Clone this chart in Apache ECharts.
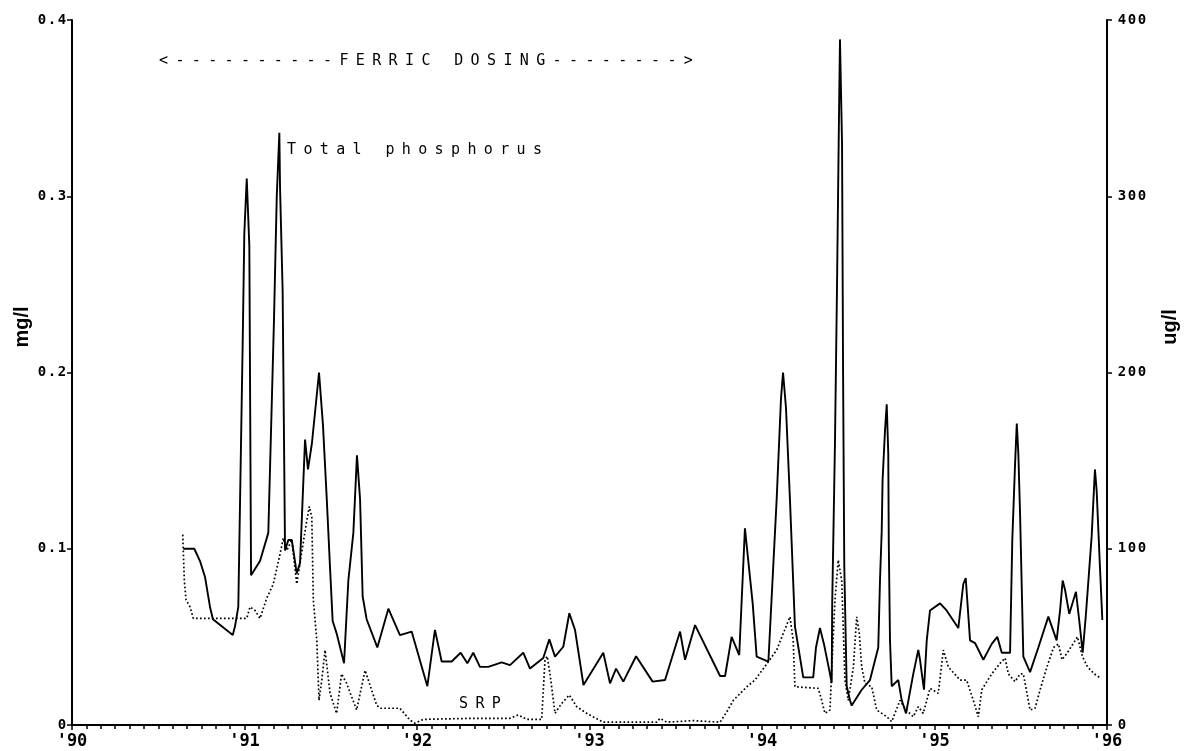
<!DOCTYPE html>
<html>
<head>
<meta charset="utf-8">
<script src="https://cdn.jsdelivr.net/npm/echarts@6/dist/echarts.min.js"></script>
<style>
  html, body { margin: 0; padding: 0; background: #ffffff; }
  #chart { width: 1184px; height: 751px; }
</style>
</head>
<body>
<div id="chart"></div>
<script>
// Sampling dates are decimal years.
// Total phosphorus, mg/l (left axis)
const totalPhosphorus = [
  [1990.645, 0.100], [1990.709, 0.100], [1990.742, 0.093], [1990.771, 0.084], [1990.800, 0.067],
  [1990.817, 0.060], [1990.868, 0.056], [1990.932, 0.051], [1990.945, 0.056], [1990.964, 0.067],
  [1990.990, 0.220], [1990.999, 0.279], [1991.013, 0.310], [1991.028, 0.272], [1991.032, 0.197],
  [1991.038, 0.085], [1991.090, 0.093], [1991.138, 0.109], [1991.171, 0.230], [1991.187, 0.300],
  [1991.202, 0.336], [1991.206, 0.305], [1991.221, 0.247], [1991.235, 0.099], [1991.254, 0.105],
  [1991.274, 0.105], [1991.303, 0.086], [1991.322, 0.092], [1991.351, 0.162], [1991.368, 0.145],
  [1991.391, 0.160], [1991.432, 0.200], [1991.455, 0.170], [1991.477, 0.128], [1991.496, 0.089],
  [1991.511, 0.059], [1991.534, 0.052], [1991.577, 0.035], [1991.602, 0.082], [1991.631, 0.109],
  [1991.652, 0.153], [1991.670, 0.128], [1991.685, 0.073], [1991.708, 0.060], [1991.770, 0.044],
  [1991.834, 0.066], [1991.901, 0.051], [1991.969, 0.053], [1992.060, 0.022], [1992.104, 0.054],
  [1992.143, 0.036], [1992.201, 0.036], [1992.253, 0.041], [1992.292, 0.035], [1992.326, 0.041],
  [1992.365, 0.033], [1992.413, 0.033], [1992.491, 0.0355], [1992.539, 0.034], [1992.616, 0.041],
  [1992.655, 0.032], [1992.732, 0.038], [1992.767, 0.0486], [1992.800, 0.0388], [1992.848, 0.0444],
  [1992.883, 0.0634], [1992.916, 0.054], [1992.965, 0.0227], [1993.080, 0.041], [1993.119, 0.0236],
  [1993.154, 0.032], [1993.196, 0.0246], [1993.270, 0.039], [1993.366, 0.0246], [1993.438, 0.0255],
  [1993.525, 0.053], [1993.554, 0.037], [1993.612, 0.0567], [1993.757, 0.0278], [1993.786, 0.0278],
  [1993.824, 0.050], [1993.868, 0.0397], [1993.901, 0.1116], [1993.946, 0.069], [1993.969, 0.0388],
  [1994.037, 0.036], [1994.085, 0.128], [1994.110, 0.185], [1994.122, 0.200], [1994.139, 0.180],
  [1994.162, 0.128], [1994.191, 0.056], [1994.239, 0.027], [1994.297, 0.027], [1994.313, 0.044],
  [1994.336, 0.055], [1994.359, 0.046], [1994.390, 0.031], [1994.404, 0.024], [1994.407, 0.069],
  [1994.423, 0.160], [1994.435, 0.250], [1994.446, 0.343], [1994.452, 0.389], [1994.464, 0.330],
  [1994.470, 0.200], [1994.477, 0.090], [1994.491, 0.022], [1994.510, 0.014], [1994.520, 0.011],
  [1994.578, 0.020], [1994.626, 0.0255], [1994.674, 0.044], [1994.684, 0.082], [1994.694, 0.110],
  [1994.699, 0.139], [1994.713, 0.167], [1994.723, 0.182], [1994.732, 0.154], [1994.735, 0.103],
  [1994.742, 0.048], [1994.752, 0.022], [1994.790, 0.0255], [1994.810, 0.014], [1994.835, 0.0066],
  [1994.877, 0.029], [1994.906, 0.0426], [1994.916, 0.037], [1994.939, 0.020], [1994.955, 0.048],
  [1994.974, 0.065], [1995.032, 0.069], [1995.070, 0.065], [1995.138, 0.055], [1995.167, 0.080],
  [1995.181, 0.0834], [1995.206, 0.048], [1995.235, 0.0465], [1995.283, 0.037], [1995.332, 0.046],
  [1995.364, 0.050], [1995.390, 0.041], [1995.438, 0.041], [1995.451, 0.105], [1995.467, 0.148],
  [1995.477, 0.171], [1995.486, 0.154], [1995.496, 0.120], [1995.515, 0.0388], [1995.554, 0.030],
  [1995.602, 0.044], [1995.660, 0.0615], [1995.708, 0.048], [1995.728, 0.065], [1995.743, 0.082],
  [1995.757, 0.0766], [1995.781, 0.063], [1995.820, 0.0756], [1995.843, 0.0558], [1995.859, 0.041],
  [1995.878, 0.063], [1995.911, 0.107], [1995.930, 0.145], [1995.940, 0.133], [1995.959, 0.090],
  [1995.973, 0.0596]
];

// Soluble reactive phosphorus, ug/l (right axis)
const solubleReactiveP = [
  [1990.642, 108], [1990.651, 82], [1990.661, 71], [1990.684, 67], [1990.703, 60.5],
  [1991.013, 60.5], [1991.032, 67], [1991.061, 65], [1991.090, 60.5], [1991.129, 72],
  [1991.167, 80], [1991.206, 97], [1991.225, 106], [1991.245, 99], [1991.274, 105],
  [1991.303, 80], [1991.322, 92], [1991.361, 116], [1991.376, 124], [1991.390, 118],
  [1991.399, 71], [1991.419, 48], [1991.432, 14], [1991.448, 25.5], [1991.467, 42.5],
  [1991.496, 18], [1991.534, 6.6], [1991.563, 29], [1991.592, 23.6], [1991.650, 8.5],
  [1991.699, 31], [1991.766, 11.3], [1991.786, 9.5], [1991.901, 9.5], [1991.959, 2.8],
  [1991.988, 1], [1992.037, 3.2], [1992.326, 3.8], [1992.539, 3.8], [1992.587, 5.7],
  [1992.636, 3.2], [1992.723, 3.2], [1992.742, 37], [1992.755, 39], [1992.771, 29],
  [1992.800, 6.6], [1992.839, 12.3], [1992.883, 17], [1992.926, 10.4], [1992.984, 6.6],
  [1993.080, 1.6], [1993.390, 1.6], [1993.409, 3.8], [1993.448, 1.6], [1993.601, 2.5],
  [1993.757, 1.6], [1993.796, 7.5], [1993.834, 14], [1993.912, 21.7], [1993.959, 25.5],
  [1994.008, 32], [1994.085, 42.5], [1994.162, 61.4], [1994.181, 48], [1994.191, 21.7],
  [1994.326, 20.8], [1994.346, 14], [1994.365, 6.6], [1994.394, 8.5], [1994.404, 31],
  [1994.423, 71], [1994.442, 93.6], [1994.462, 82], [1994.472, 52], [1994.481, 25.5],
  [1994.500, 14], [1994.530, 33], [1994.549, 61.4], [1994.564, 52], [1994.578, 33],
  [1994.597, 23.6], [1994.636, 21.7], [1994.665, 8.5], [1994.723, 4.7], [1994.752, 1.9],
  [1994.800, 14], [1994.835, 8.5], [1994.877, 4.7], [1994.906, 10.4], [1994.935, 6.6],
  [1994.974, 20.8], [1995.022, 18], [1995.051, 42.5], [1995.080, 33], [1995.148, 25.5],
  [1995.186, 25.5], [1995.225, 14], [1995.254, 4.7], [1995.274, 20], [1995.332, 29],
  [1995.380, 35], [1995.409, 38], [1995.428, 29], [1995.467, 24.6], [1995.496, 29],
  [1995.515, 29], [1995.554, 8.5], [1995.583, 9.5], [1995.612, 20], [1995.652, 33],
  [1995.690, 44], [1995.719, 46], [1995.739, 37], [1995.768, 40.7], [1995.829, 50],
  [1995.858, 38.7], [1995.887, 33], [1995.926, 29], [1995.965, 26.5]
];

const yearLabels = { 1990: "'90", 1991: "'91", 1992: "'92", 1993: "'93", 1994: "'94", 1995: "'95", 1996: "'96" };
const mgTicks = { 0: '0', 0.1: '0.1', 0.2: '0.2', 0.3: '0.3', 0.4: '0.4' };
const ugTicks = { 0: '0', 100: '100', 200: '200', 300: '300', 400: '400' };

const annotations = {
  dosing: '<----------FERRIC DOSING-------->',
  tp: 'Total phosphorus',
  srp: 'SRP'
};

// Typewriter-style text: every character sits in a fixed-width cell.
function cellText(str, styleName) {
  return str.split('').map(function (ch) { return '{' + styleName + '|' + ch + '}'; }).join('');
}

const mono = '"DejaVu Sans Mono", "Liberation Mono", monospace';
const richCells = {
  a: { fontFamily: mono, fontSize: 15, width: 16.4, align: 'center', color: '#000' }
};
const tickCells = {
  d: { fontFamily: mono, fontSize: 14, fontWeight: 'bold', width: 10, align: 'center', color: '#000' }
};

const chart = echarts.init(document.getElementById('chart'), null, { renderer: 'canvas' });

function keyOf(v) { return String(Math.round(v * 1000) / 1000); }

chart.setOption({
  animation: false,
  backgroundColor: '#ffffff',
  grid: { left: 72, right: 77, top: 20, bottom: 26, containLabel: false },
  xAxis: {
    type: 'value',
    min: 1990, max: 1996, interval: 1,
    axisLine: { show: true, lineStyle: { color: '#000', width: 2 } },
    axisTick: { show: true, length: 5, lineStyle: { color: '#000', width: 1.5 } },
    minorTick: { show: true, splitNumber: 12, length: 4, lineStyle: { color: '#000', width: 1.5 } },
    splitLine: { show: false },
    axisLabel: {
      margin: 8,
      fontFamily: mono, fontSize: 17, fontWeight: 'bold', color: '#000',
      formatter: function (v) { return yearLabels[Math.round(v)] || ''; }
    }
  },
  yAxis: [
    {
      type: 'value', position: 'left',
      min: 0, max: 0.4, interval: 0.1,
      axisLine: { show: true, lineStyle: { color: '#000', width: 2 } },
      axisTick: { show: true, length: 5, lineStyle: { color: '#000', width: 1.5 } },
      splitLine: { show: false },
      axisLabel: {
        margin: 5,
        rich: tickCells,
        formatter: function (v) { return cellText(mgTicks[keyOf(v)] || '', 'd'); }
      }
    },
    {
      type: 'value', position: 'right',
      min: 0, max: 400, interval: 100,
      axisLine: { show: true, lineStyle: { color: '#000', width: 2 } },
      axisTick: { show: true, length: 5, lineStyle: { color: '#000', width: 1.5 } },
      splitLine: { show: false },
      axisLabel: {
        margin: 10,
        rich: tickCells,
        formatter: function (v) { return cellText(ugTicks[keyOf(v)] || '', 'd'); }
      }
    }
  ],
  series: [
    {
      name: 'Total phosphorus',
      type: 'line',
      yAxisIndex: 0,
      data: totalPhosphorus,
      showSymbol: false,
      lineStyle: { color: '#000', width: 1.9 }
    },
    {
      name: 'SRP',
      type: 'line',
      yAxisIndex: 1,
      data: solubleReactiveP,
      showSymbol: false,
      lineStyle: { color: '#000', width: 1.7, type: [1.7, 2.3] }
    }
  ],
  graphic: [
    {
      type: 'text', left: 159, top: 54,
      style: { text: cellText(annotations.dosing, 'a'), rich: richCells, fill: '#000' }
    },
    {
      type: 'text', left: 287, top: 143,
      style: { text: cellText(annotations.tp, 'a'), rich: richCells, fill: '#000' }
    },
    {
      type: 'text', left: 459, top: 697,
      style: { text: cellText(annotations.srp, 'a'), rich: richCells, fill: '#000' }
    },
    {
      type: 'text', x: 22, y: 327, rotation: Math.PI / 2,
      style: {
        text: 'mg/l', fill: '#000',
        font: 'bold 20px "Liberation Sans", Arial, sans-serif',
        align: 'center', verticalAlign: 'middle'
      }
    },
    {
      type: 'text', x: 1170, y: 327, rotation: Math.PI / 2,
      style: {
        text: 'ug/l', fill: '#000',
        font: 'bold 20px "Liberation Sans", Arial, sans-serif',
        align: 'center', verticalAlign: 'middle'
      }
    }
  ]
});
</script>
</body>
</html>
